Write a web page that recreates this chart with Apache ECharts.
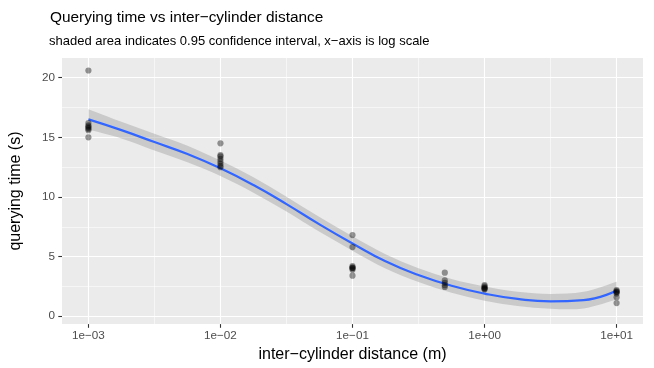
<!DOCTYPE html>
<html>
<head>
<meta charset="utf-8">
<script src="https://cdn.jsdelivr.net/npm/echarts@6/dist/echarts.min.js"></script>
<style>
html,body{margin:0;padding:0;background:#fff;}
#chart{width:654px;height:368px;}
</style>
</head>
<body>
<div id="chart"></div>
<script>
// ---- data ----
// observed points: inter-cylinder distance (m) and querying time (s)
var ptDist = [0.001,0.001,0.001,0.001,0.001,0.001,0.001,0.001,
              0.01,0.01,0.01,0.01,0.01,0.01,0.01,0.01,
              0.1,0.1,0.1,0.1,0.1,0.1,0.1,0.1,
              0.5,0.5,0.5,0.5,0.5,
              1,1,1,1,1,1,
              10,10,10,10,10,10,10];
var ptTime = [20.6,16.2,16.0,15.9,15.8,15.7,15.6,15.0,
              14.5,13.5,13.4,13.2,13.0,12.8,12.6,12.5,
              6.8,5.8,4.2,4.1,4.05,4.0,3.9,3.4,
              3.65,3.0,2.8,2.6,2.45,
              2.6,2.5,2.4,2.35,2.3,2.25,
              2.2,2.1,2.05,2.0,1.9,1.6,1.1];
// smoothed fit, sampled at log10(distance)
var fitLogDist = [-3,-2.75,-2.5,-2.25,-2,-1.75,-1.5,-1.25,-1,-0.75,-0.5,-0.25,0,0.25,0.5,0.75,1];
var fitTime    = [16.5,15.6,14.6,13.6,12.4,11.0,9.4,7.7,6.1,4.6,3.45,2.55,1.9,1.45,1.25,1.35,2.15];
var ciLow      = [15.65,14.9,13.9,12.9,11.75,10.35,8.78,7.08,5.5,4.0,2.87,1.97,1.3,0.85,0.63,0.65,1.4];
var ciHigh     = [17.35,16.3,15.3,14.3,13.05,11.65,10.02,8.32,6.7,5.2,4.03,3.13,2.5,2.05,1.87,2.05,2.9];
// axis ticks
var xTickLog   = [-3,-2,-1,0,1];
var xTickText  = ['1e\u221203','1e\u221202','1e\u221201','1e+00','1e+01'];
var yTicks     = [0,5,10,15,20];

// ---- build series ----
var pts = ptDist.map(function(d,i){ return [Math.log10(d), ptTime[i]]; });
var fit = fitLogDist.map(function(x,i){ return [x, fitTime[i]]; });

// smooth path through pixel points (Catmull-Rom -> cubic Bezier)
function splinePath(p, moveFirst){
  var s = (moveFirst ? 'M' : 'L') + p[0][0] + ' ' + p[0][1];
  for (var i = 0; i < p.length - 1; i++){
    var p0 = p[i-1] || p[i], p1 = p[i], p2 = p[i+1], p3 = p[i+2] || p[i+1];
    var c1x = p1[0] + (p2[0]-p0[0])/6, c1y = p1[1] + (p2[1]-p0[1])/6;
    var c2x = p2[0] - (p3[0]-p1[0])/6, c2y = p2[1] - (p3[1]-p1[1])/6;
    s += ' C' + c1x + ' ' + c1y + ' ' + c2x + ' ' + c2y + ' ' + p2[0] + ' ' + p2[1];
  }
  return s;
}
function renderBand(params, api){
  if (params.dataIndex !== 0) return;
  var up = fitLogDist.map(function(x,i){ return api.coord([x, ciHigh[i]]); });
  var lo = fitLogDist.map(function(x,i){ return api.coord([x, ciLow[i]]); }).reverse();
  var d = splinePath(up, true) + ' ' + splinePath(lo, false) + ' Z';
  return {type:'path', shape:{pathData:d}, style:{fill:'rgba(153,153,153,0.4)', stroke:null}};
}

var FONT = '"Liberation Sans", Arial, Helvetica, sans-serif';
var chart = echarts.init(document.getElementById('chart'), null, {renderer:'canvas'});
chart.setOption({
  animation:false,
  backgroundColor:'#ffffff',
  title:[
    {text:'Querying time vs inter\u2212cylinder distance', left:50, top:10, padding:0,
     textStyle:{fontFamily:FONT, fontSize:15.4, fontWeight:'normal', color:'#000'}},
    {text:'shaded area indicates 0.95 confidence interval, x\u2212axis is log scale', left:49, top:35, padding:0,
     textStyle:{fontFamily:FONT, fontSize:13, fontWeight:'normal', color:'#000'}}
  ],
  grid:{left:62, right:11, top:58, bottom:40, show:true, backgroundColor:'#EBEBEB', borderWidth:0},
  xAxis:{
    type:'value', min:-3.2, max:1.2,
    name:'inter\u2212cylinder distance (m)', nameLocation:'middle', nameGap:20,
    nameTextStyle:{fontFamily:FONT, fontSize:16, color:'#000'},
    axisLine:{show:false, onZero:false},
    axisTick:{show:true, length:3.7, lineStyle:{color:'#333333', width:1.1}, customValues:xTickLog},
    axisLabel:{fontFamily:FONT, fontSize:11.7, color:'#4D4D4D', margin:6, customValues:xTickLog,
      formatter:function(v){ var i = xTickLog.indexOf(Math.round(v)); return i>=0 ? xTickText[i] : ''; }},
    splitLine:{show:true, lineStyle:{color:'#FFFFFF', width:1.1}},
    minorTick:{show:false, splitNumber:2},
    minorSplitLine:{show:true, lineStyle:{color:'#FFFFFF', width:0.55}}
  },
  yAxis:{
    type:'value', min:-0.66, max:21.65,
    name:'querying time (s)', nameLocation:'middle', nameGap:38,
    nameTextStyle:{fontFamily:FONT, fontSize:16, color:'#000'},
    axisLine:{show:false, onZero:false},
    axisTick:{show:true, length:3.7, lineStyle:{color:'#333333', width:1.1}, customValues:yTicks},
    axisLabel:{fontFamily:FONT, fontSize:11.7, color:'#4D4D4D', margin:7, customValues:yTicks},
    splitLine:{show:true, lineStyle:{color:'#FFFFFF', width:1.1}},
    minorTick:{show:false, splitNumber:2},
    minorSplitLine:{show:true, lineStyle:{color:'#FFFFFF', width:0.55}}
  },
  series:[
    {type:'custom', renderItem:renderBand, data:[[fitLogDist[0], ciLow[0]]], silent:true, z:2},
    {type:'line', data:fit, smooth:true, symbol:'none', silent:true,
     lineStyle:{color:'#3366FF', width:2.2}, z:3},
    {type:'scatter', data:pts, symbol:'circle', symbolSize:6.2,
     itemStyle:{color:'rgba(0,0,0,0.5)'}, z:4}
  ]
});
</script>
</body>
</html>
